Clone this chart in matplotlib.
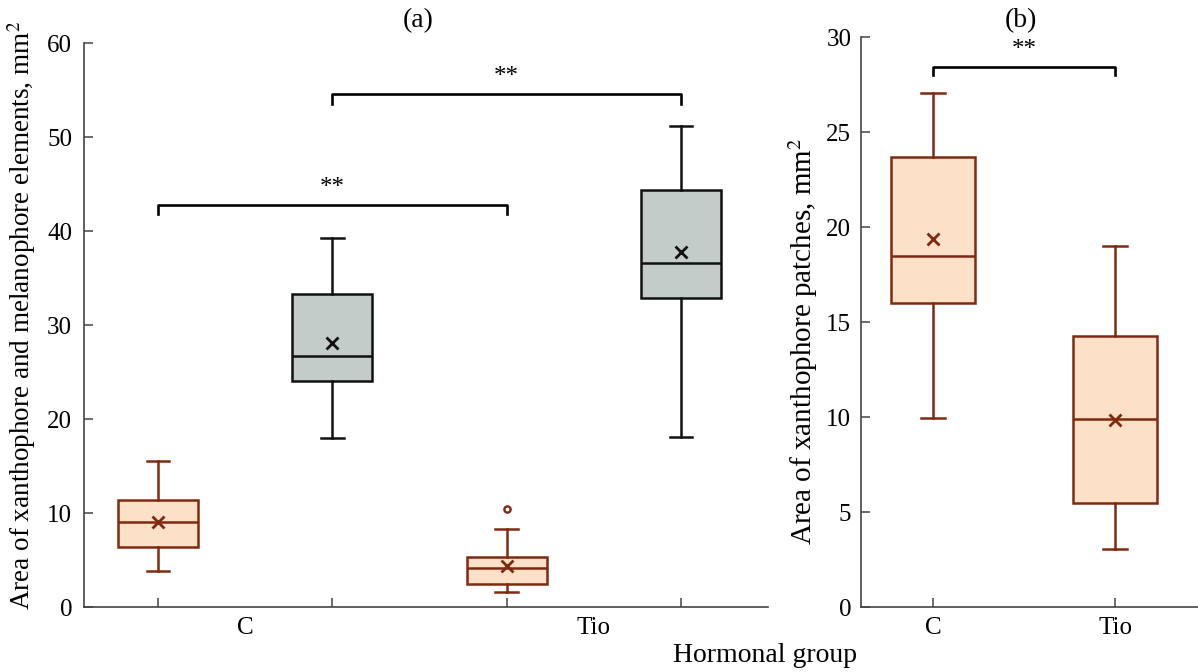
import numpy as np
import matplotlib
matplotlib.use("Agg")
import matplotlib.pyplot as plt

plt.rcParams['font.family'] = ['Liberation Serif', 'DejaVu Serif']
plt.rcParams['mathtext.fontset'] = 'stix'

# panel (a): C-xantho, C-total, Tio-xantho, Tio-total
a_whislo = [3.85, 18.0, 1.6, 18.1]
a_q1     = [6.35, 24.0, 2.5, 32.9]
a_med    = [9.1, 26.7, 4.1, 36.6]
a_q3     = [11.35, 33.3, 5.35, 44.4]
a_whishi = [15.55, 39.25, 8.3, 51.2]
a_mean   = [9.0, 28.1, 4.4, 37.8]
a_fliers = [[], [], [10.4], []]

# panel (b): C, Tio
b_whislo = [9.95, 3.05]
b_q1     = [16.0, 5.5]
b_med    = [18.5, 9.88]
b_q3     = [23.7, 14.25]
b_whishi = [27.05, 18.98]
b_mean   = [19.4, 9.85]
groups = ['C', 'Tio']

orange_fc = '#fde0c8'
orange_ec = '#7e2a10'
gray_fc = '#c4ccca'
gray_ec = '#111111'
axis_col = '#444444'


def make_stats(lo, q1, med, q3, hi, mean, fl=None):
    out = []
    for i in range(len(lo)):
        out.append(dict(whislo=lo[i], q1=q1[i], med=med[i], q3=q3[i], whishi=hi[i],
                        mean=mean[i], fliers=(fl[i] if fl else [])))
    return out


def draw_box(ax, st, pos, fc, ec):
    ax.bxp([st], positions=[pos], widths=0.46, capwidths=0.13, patch_artist=True,
           showmeans=True, showfliers=True,
           boxprops=dict(facecolor=fc, edgecolor=ec, linewidth=1.8),
           medianprops=dict(color=ec, linewidth=1.8),
           whiskerprops=dict(color=ec, linewidth=1.8),
           capprops=dict(color=ec, linewidth=1.8),
           meanprops=dict(marker='x', markeredgecolor=ec, markersize=8, markeredgewidth=2),
           flierprops=dict(marker='o', markerfacecolor='none', markeredgecolor=ec,
                           markersize=4.5, markeredgewidth=1.7))


def bracket(ax, x1, x2, y, drop, txt, ty):
    ax.plot([x1, x1, x2, x2], [y - drop, y, y, y - drop], color='black', lw=1.9,
            clip_on=False)
    ax.text((x1 + x2) / 2, ty, txt, ha='center', va='center', fontsize=18)


def style(ax, pad):
    for s in ['top', 'right']:
        ax.spines[s].set_visible(False)
    for s in ['left', 'bottom']:
        ax.spines[s].set_color(axis_col)
        ax.spines[s].set_linewidth(1.2)
    ax.tick_params(axis='both', which='major', direction='in', length=6.5, width=1.1,
                   color=axis_col, labelsize=18)
    ax.tick_params(axis='y', pad=pad)
    ax.tick_params(axis='x', which='both', pad=7)


fig = plt.figure(figsize=(11.98, 6.72), dpi=100)

# ---- panel (a)
ax1 = fig.add_axes([0.0701, 0.0967, 0.571, 0.839])
sa = make_stats(a_whislo, a_q1, a_med, a_q3, a_whishi, a_mean, a_fliers)
cols = [(orange_fc, orange_ec), (gray_fc, gray_ec), (orange_fc, orange_ec), (gray_fc, gray_ec)]
for i in range(4):
    draw_box(ax1, sa[i], i + 1, cols[i][0], cols[i][1])
ax1.set_xlim(0.575, 4.5)
ax1.set_ylim(0, 60)
ax1.set_yticks(np.arange(0, 61, 10))
ax1.set_xticks([1, 2, 3, 4])
ax1.set_xticklabels([])
ax1.set_xticks([1.5, 3.5], minor=True)
ax1.set_xticklabels(groups, minor=True)
style(ax1, 8.5)
ax1.tick_params(axis='x', which='minor', length=0, labelsize=18)
bracket(ax1, 1, 3, 42.8, 1.0, '**', 44.6)
bracket(ax1, 2, 4, 54.6, 1.1, '**', 56.4)

# ---- panel (b)
ax2 = fig.add_axes([0.7187, 0.0967, 0.2813, 0.848])
sb = make_stats(b_whislo, b_q1, b_med, b_q3, b_whishi, b_mean)
for i in range(2):
    draw_box(ax2, sb[i], i + 1, orange_fc, orange_ec)
ax2.set_xlim(0.604, 2.456)
ax2.set_ylim(0, 30)
ax2.set_yticks(np.arange(0, 31, 5))
ax2.set_xticks([1, 2])
ax2.set_xticklabels(groups)
style(ax2, 7)
bracket(ax2, 1, 2, 28.45, 0.45, '**', 29.3)

# labels and panel titles
fig.text(0.0184, 0.530, 'Area of xanthophore and melanophore elements, mm$^2$',
         rotation=90, ha='center', va='center', fontsize=19.5)
fig.text(0.670, 0.492, 'Area of xanthophore patches, mm$^2$',
         rotation=90, ha='center', va='center', fontsize=21)
fig.text(0.349, 0.970, '(a)', ha='center', va='center', fontsize=20)
fig.text(0.852, 0.970, '(b)', ha='center', va='center', fontsize=20)
fig.text(0.639, 0.025, 'Hormonal group', ha='center', va='center', fontsize=20)

fig.savefig('out.png', dpi=100)
